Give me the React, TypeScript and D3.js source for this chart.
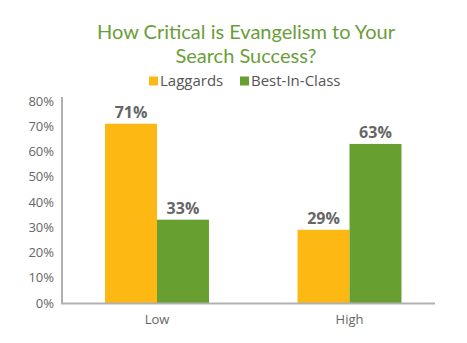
import React from "react";
import * as d3 from "d3";

const categories = ["Low", "High"];
const seriesNames = ["Laggards", "Best-In-Class"];
const laggards = [71, 29];
const bestInClass = [33, 63];
const yTicks = [0, 10, 20, 30, 40, 50, 60, 70, 80];
const titleLines = ["How Critical is Evangelism to Your", "Search Success?"];
const colors = ["#FDB813", "#67A030"];

export default function App() {
  const W = 467, H = 343;
  const font = "'Open Sans', 'Noto Sans', sans-serif";
  const y = d3.scaleLinear().domain([0, 80]).range([303, 101]);
  const x0 = d3.scaleBand<string>().domain(categories).range([60.75, 445.75]).paddingInner(0.46).paddingOuter(0.23);
  const x1 = d3.scaleBand<string>().domain(seriesNames).range([0, x0.bandwidth()]);
  const series = [laggards, bestInClass];
  return (
    <svg width={W} height={H} style={{ position: "absolute", left: 0, top: 0, background: "#fff" }} fontFamily={font}>
      {titleLines.map((t, i) => (
        <text key={t} x={246} y={38.5 + i * 24} textAnchor="middle" fontSize={20} fontFamily="Lato, 'Open Sans', sans-serif" fill="#6A9E3A">{t}</text>
      ))}
      <g>
        <rect x={149} y={76.5} width={9} height={9} fill={colors[0]} />
        <text x={160} y={86} fontSize={15} fill="#555">{seriesNames[0]}</text>
        <rect x={240} y={76.5} width={9} height={9} fill={colors[1]} />
        <text x={251} y={86} fontSize={15} fill="#555">{seriesNames[1]}</text>
      </g>
      {yTicks.map((t) => (
        <text key={t} x={54} y={y(t) + 4.5} textAnchor="end" fontSize={13} fill="#666">{t}%</text>
      ))}
      {categories.map((c, ci) => (
        <g key={c} transform={`translate(${x0(c)},0)`}>
          {seriesNames.map((s, si) => {
            const v = series[si][ci];
            return (
              <g key={s}>
                <rect x={x1(s)} y={y(v)} width={x1.bandwidth()} height={y(0) - y(v)} fill={colors[si]} />
                <text x={(x1(s) as number) + x1.bandwidth() / 2} y={y(v) - 6} textAnchor="middle" fontSize={16} fontWeight="bold" fill="#666">{v}%</text>
              </g>
            );
          })}
          <text x={x0.bandwidth() / 2} y={324} textAnchor="middle" fontSize={13} fill="#666">{c}</text>
        </g>
      ))}
      <line x1={62} x2={62} y1={97} y2={304} stroke="#B0B0B0" strokeWidth={2} />
      <line x1={61} x2={435} y1={303.5} y2={303.5} stroke="#B0B0B0" strokeWidth={2} />
    </svg>
  );
}
